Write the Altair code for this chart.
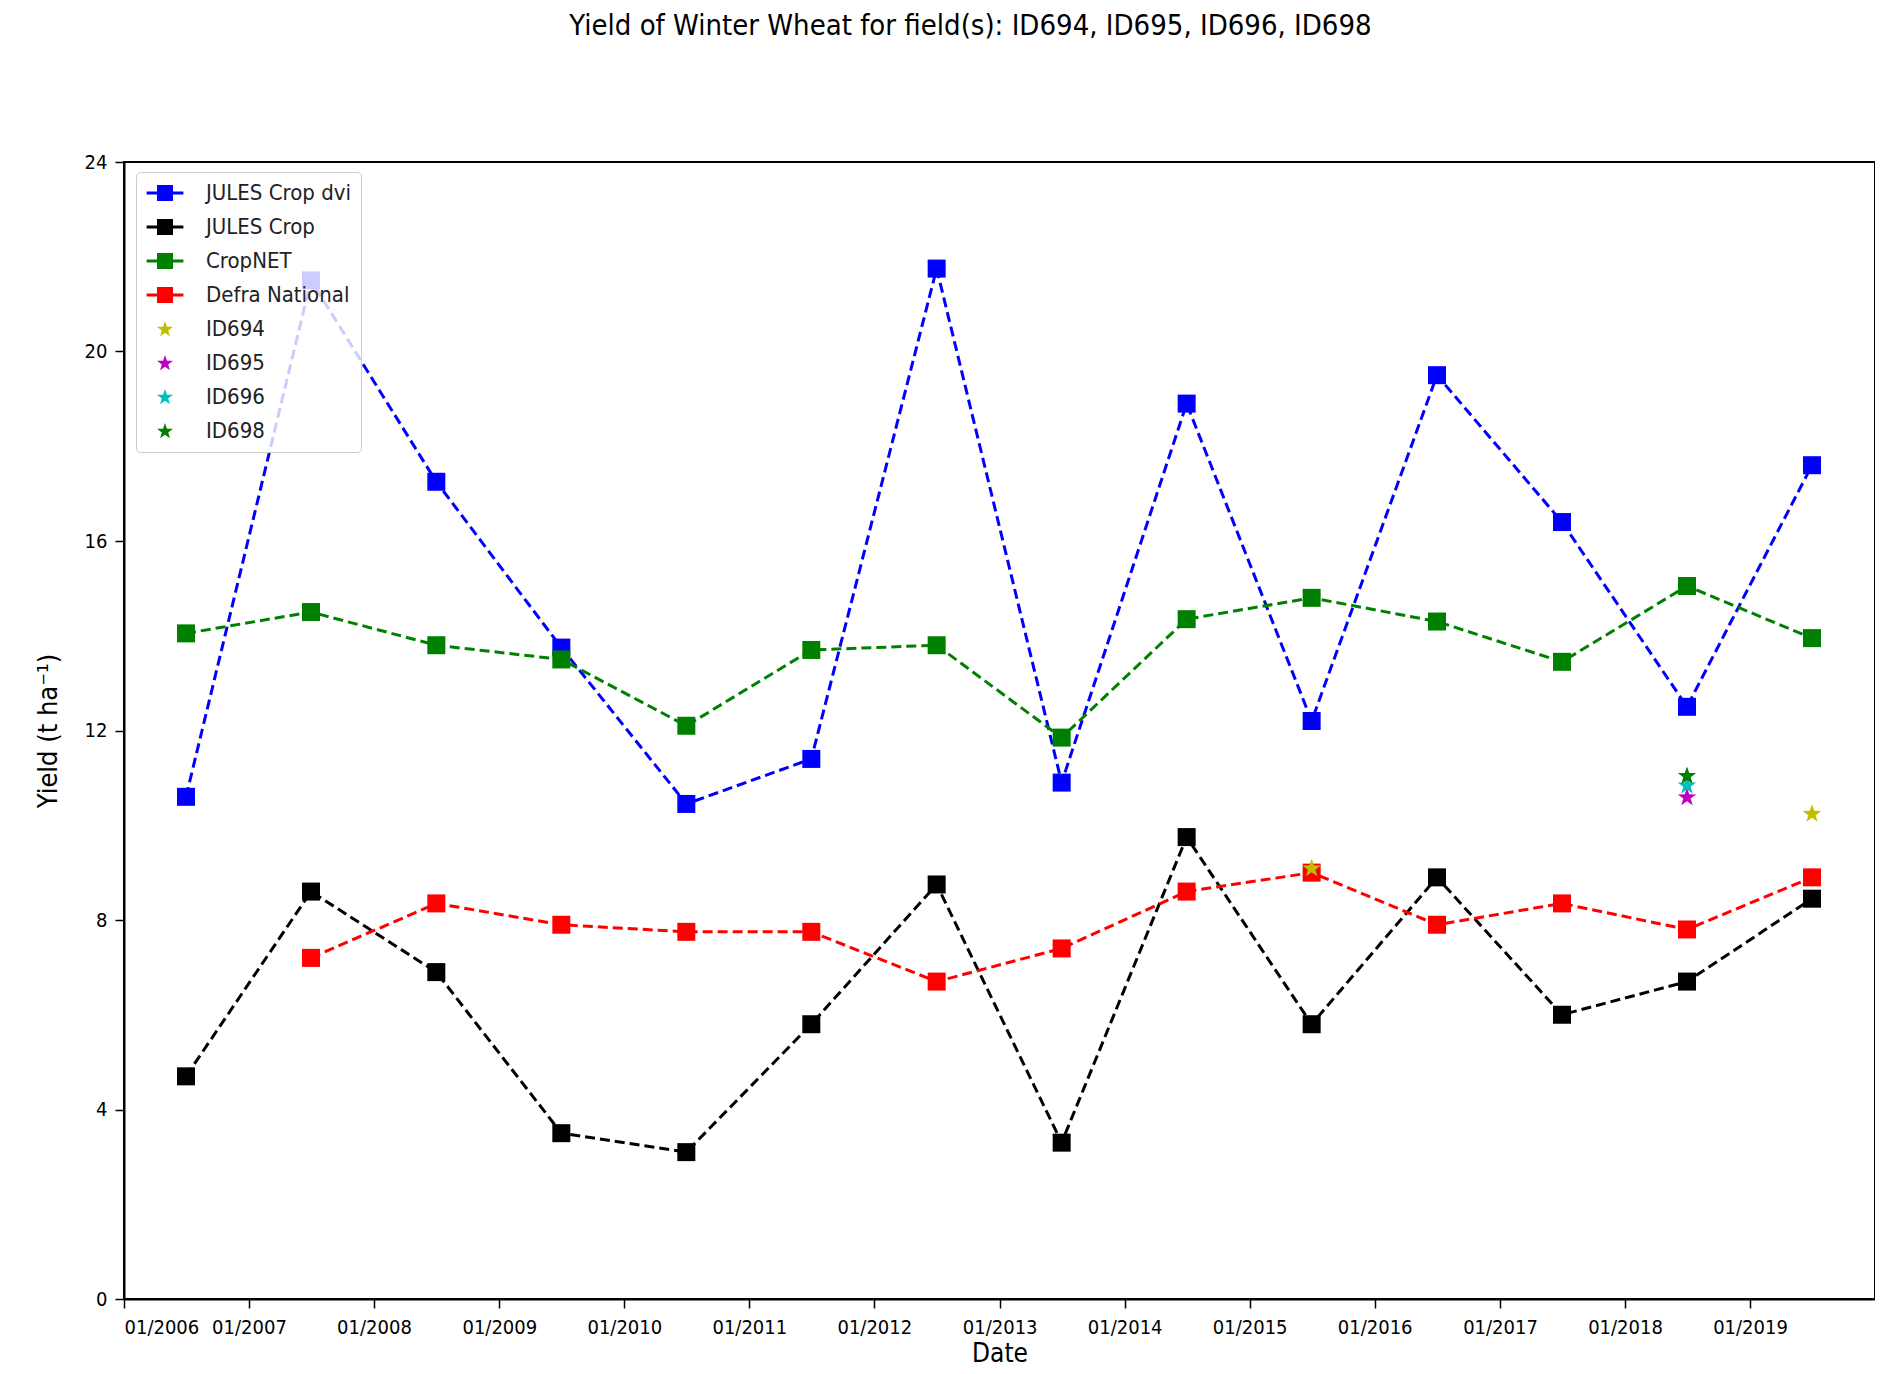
import math
import altair as alt
import pandas as pd

# ---- data ----
years = list(range(2006, 2020))
jules_dvi = [10.6, 21.5, 17.25, 13.75, 10.45, 11.4, 21.75, 10.9, 18.9, 12.2, 19.5, 16.4, 12.5, 17.6]
jules_crop = [4.7, 8.6, 6.9, 3.5, 3.1, 5.8, 8.75, 3.3, 9.75, 5.8, 8.9, 6.0, 6.7, 8.45]
cropnet = [14.05, 14.5, 13.8, 13.5, 12.1, 13.7, 13.8, 11.85, 14.35, 14.8, 14.3, 13.45, 15.05, 13.95]
defra_years = list(range(2007, 2020))
defra = [7.2, 8.35, 7.9, 7.75, 7.75, 6.7, 7.4, 8.6, 9.0, 7.9, 8.35, 7.8, 8.9]
id694_years = [2015, 2019]
id694 = [9.1, 10.25]
id695_years = [2018]
id695 = [10.6]
id696_years = [2018]
id696 = [10.85]
id698_years = [2018]
id698 = [11.05]

series_names = ["JULES Crop dvi", "JULES Crop", "CropNET", "Defra National",
                "ID694", "ID695", "ID696", "ID698"]
series_colors = ["#0000ff", "#000000", "#008000", "#ff0000",
                 "#bfbf00", "#bf00bf", "#00bfbf", "#008000"]
tick_years = list(range(2006, 2020))
y_ticks = [0, 4, 8, 12, 16, 20, 24]

color_of = dict(zip(series_names, series_colors))
rows = []
def add(name, yrs, vals, kind):
    for yr, v in zip(yrs, vals):
        rows.append({"series": name, "date": f"{yr}-07-01", "value": v,
                     "kind": kind, "col": color_of[name]})

add("JULES Crop dvi", years, jules_dvi, "line")
add("JULES Crop", years, jules_crop, "line")
add("CropNET", years, cropnet, "line")
add("Defra National", defra_years, defra, "line")
add("ID694", id694_years, id694, "star")
add("ID695", id695_years, id695, "star")
add("ID696", id696_years, id696, "star")
add("ID698", id698_years, id698, "star")
df = pd.DataFrame(rows)

FONT = "DejaVu Sans Condensed, Liberation Sans Narrow, DejaVu Sans"

# symbol shapes (unit-box paths): line + square, and a five-point star
line_square_path = ("M-2.3,-0.19L2.3,-0.19L2.3,0.19L-2.3,0.19Z"
                    "M-1,-1L1,-1L1,1L-1,1Z")
def star_path(R=0.85, ratio=0.4):
    pts = []
    for k in range(10):
        r = R if k % 2 == 0 else R * ratio
        a = math.radians(-90 + 36 * k)
        pts.append(f"{r * math.cos(a):.3f},{r * math.sin(a) + 0.05:.3f}")
    return "M" + "L".join(pts) + "Z"
STAR = star_path()
LEGEND_STAR = star_path(R=1.05)
legend_shapes = [line_square_path] * 4 + [LEGEND_STAR] * 4

x_enc = alt.X(
    "date:T",
    scale=alt.Scale(domain=[alt.DateTime(year=2006, month=1, date=1),
                            alt.DateTime(year=2020, month=1, date=1)]),
    axis=alt.Axis(
        values=[alt.DateTime(year=y, month=1, date=1) for y in tick_years],
        format="%m/%Y", title="Date", grid=False, orient="bottom",
        labelFont=FONT, labelFontSize=20, labelColor="black", labelPadding=9,
        tickSize=9, tickWidth=1.5, tickColor="black",
        domainColor="black", domainWidth=2,
        titleFont=FONT, titleFontSize=26, titleFontWeight="normal", titleColor="black",
        titlePadding=3,
    ),
)
y_enc = alt.Y(
    "value:Q",
    scale=alt.Scale(domain=[0, 24], nice=False, zero=True),
    axis=alt.Axis(
        values=y_ticks, title="Yield (t ha⁻¹)", grid=False,
        labelFont=FONT, labelFontSize=20, labelColor="black", labelPadding=8,
        tickSize=9, tickWidth=1.5, tickColor="black",
        domainColor="black", domainWidth=2,
        titleFont=FONT, titleFontSize=27, titleFontWeight="normal", titleColor="black",
        titlePadding=22,
    ),
)
color_scale = alt.Scale(domain=series_names, range=series_colors)
shape_scale = alt.Scale(domain=series_names, range=legend_shapes)

base = alt.Chart(df).encode(x=x_enc, y=y_enc)

lines = base.transform_filter("datum.kind == 'line'").mark_line(
    strokeDash=[10, 5], strokeWidth=3
).encode(stroke=alt.Stroke("col:N", scale=None), detail="series:N")

squares = base.transform_filter("datum.kind == 'line'").mark_point(
    shape="square", filled=True, size=324, opacity=1
).encode(fill=alt.Fill("col:N", scale=None))

stars = base.transform_filter("datum.kind == 'star'").mark_point(
    shape=STAR, filled=True, size=520, opacity=1
).encode(fill=alt.Fill("col:N", scale=None))

legend = alt.Legend(
    title=None, orient="none", legendX=12, legendY=10,
    labelFont=FONT, labelFontSize=22, labelColor="#222222",
    symbolSize=256, symbolOffset=8, labelOffset=30, rowPadding=12,
    padding=10, fillColor="rgba(255,255,255,0.8)", strokeColor="#cccccc",
    cornerRadius=4, symbolOpacity=1, symbolStrokeWidth=0,
)
# layer with no visible marks that only carries the combined legend
legend_layer = base.transform_filter("false").mark_point(
    filled=True, size=256, opacity=1
).encode(
    color=alt.Color("series:N", scale=color_scale, legend=legend),
    shape=alt.Shape("series:N", scale=shape_scale, legend=legend),
)

chart = alt.layer(lines, squares, stars, legend_layer).properties(
    width=1751, height=1137,
    autosize=alt.AutoSizeParams(type="none"),
    padding={"left": 116, "top": 154, "right": 0, "bottom": 67},
    title=alt.TitleParams(
        text="Yield of Winter Wheat for field(s): ID694, ID695, ID696, ID698",
        font=FONT, fontSize=29, fontWeight="normal", color="black",
        anchor="middle", frame="group", offset=111, dx=-29,
    ),
).configure(background="white").configure_view(stroke="black", strokeWidth=2)

chart.save("out.html", embed_options={"renderer": "svg", "actions": False})
